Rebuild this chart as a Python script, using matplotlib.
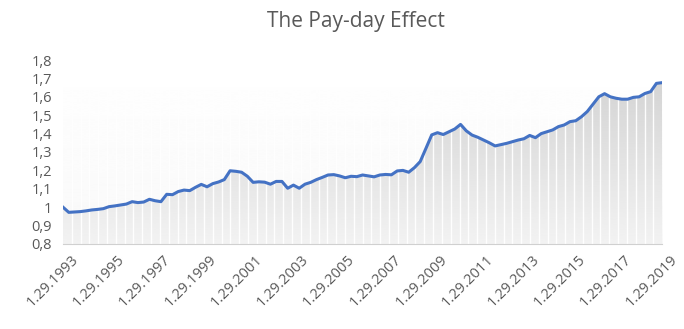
import numpy as np
import matplotlib
matplotlib.use("Agg")
import matplotlib.pyplot as plt
import matplotlib.transforms as mtransforms
from matplotlib.ticker import FuncFormatter

# quarterly values, 1.29.1993 .. 1.29.2019
start_year = 1993
values = [
    1.000, 0.972, 0.974, 0.976, 0.980, 0.985, 0.988, 0.992, 1.003, 1.007,
    1.012, 1.017, 1.030, 1.025, 1.028, 1.043, 1.035, 1.030, 1.070, 1.068,
    1.085, 1.093, 1.090, 1.108, 1.124, 1.111, 1.128, 1.137, 1.150, 1.198,
    1.195, 1.190, 1.168, 1.135, 1.138, 1.136, 1.125, 1.140, 1.140, 1.103,
    1.120, 1.103, 1.125, 1.135, 1.150, 1.162, 1.175, 1.177, 1.170, 1.160,
    1.168, 1.166, 1.175, 1.170, 1.165, 1.175, 1.178, 1.176, 1.197, 1.200,
    1.190, 1.215, 1.248, 1.320, 1.393, 1.405, 1.395, 1.410, 1.425, 1.450,
    1.415, 1.392, 1.380, 1.365, 1.350, 1.333, 1.340, 1.347, 1.356, 1.365,
    1.372, 1.390, 1.378, 1.400, 1.410, 1.420, 1.438, 1.447, 1.465, 1.470,
    1.492, 1.520, 1.560, 1.600, 1.617, 1.600, 1.592, 1.587, 1.587, 1.597,
    1.600, 1.618, 1.628, 1.673, 1.677,
]
tick_years = list(range(1993, 2020, 2))
tick_labels = [f"1.29.{y}" for y in tick_years]

x = start_year + np.arange(len(values)) / 4.0
y = np.array(values)

plt.rcParams["font.family"] = ["Open Sans", "DejaVu Sans"]
txt = "#595959"

fig = plt.figure(figsize=(6.84, 3.29), dpi=100)
ax = fig.add_axes([0.0921, 0.2584, 0.876, 0.5592])
ax.set_xlim(1993, 2019)
ax.set_ylim(0.8, 1.8)

# faint background gradient (white at top, a touch grey lower down)
bg = np.linspace(0.975, 1.0, 256).reshape(-1, 1)
ax.imshow(bg, extent=[1993, 2019, 0.8, 1.8], origin="lower", aspect="auto",
          cmap="gray", vmin=0, vmax=1, zorder=0, interpolation="bicubic")

# gradient fill under the line: light at the bottom, darker near the top
grad = np.linspace(0.95, 0.83, 256).reshape(-1, 1)
img = ax.imshow(grad, extent=[1993, 2019, 0.8, 1.7], origin="lower", aspect="auto",
                cmap="gray", vmin=0, vmax=1, zorder=1, interpolation="bicubic")
poly = ax.fill_between(x, 0.8, y, facecolor="none", edgecolor="none")
img.set_clip_path(poly.get_paths()[0], transform=ax.transData)

# thin white gaps between the columns
for xv in np.linspace(1993, 2019, 69)[1:-1]:
    ax.axvline(xv, color="white", lw=1.0, alpha=0.95, zorder=2)

ax.plot(x, y, color="#4472C4", lw=2.2, zorder=3, solid_joinstyle="round")

for s in ["top", "right", "left"]:
    ax.spines[s].set_visible(False)
ax.spines["bottom"].set_color("#d0d0d0")
ax.spines["bottom"].set_zorder(4)

ax.set_yticks(np.arange(0.8, 1.81, 0.1))
ax.yaxis.set_major_formatter(FuncFormatter(
    lambda v, p: (f"{v:.1f}".rstrip("0").rstrip(".")).replace(".", ",")))
ax.set_xticks(tick_years)
ax.set_xticklabels(tick_labels, rotation=45, ha="right", rotation_mode="anchor")
ax.tick_params(axis="both", length=0, colors=txt, labelsize=10.5)
ax.tick_params(axis="x", pad=6)
ax.tick_params(axis="y", pad=8)

shift = mtransforms.ScaledTranslation(8 / 100, 0, fig.dpi_scale_trans)
for lab in ax.get_xticklabels():
    lab.set_transform(lab.get_transform() + shift)

fig.text(0.52, 0.935, "The Pay-day Effect", ha="center", va="center",
         fontsize=15, color=txt)

fig.savefig("out.png", dpi=100)
